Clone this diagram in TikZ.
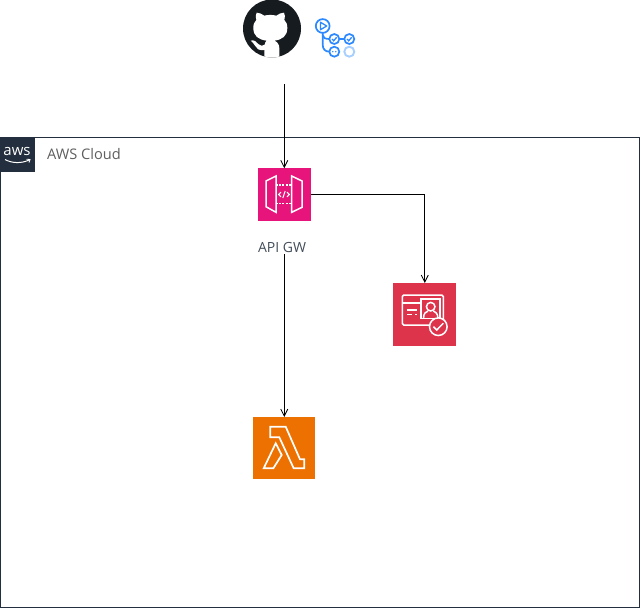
\documentclass[tikz,border=0pt]{standalone}
\usepackage{fontspec}
\setmainfont{Open Sans}
\usetikzlibrary{arrows.meta}
\definecolor{awsnavy}{HTML}{232F3E}
\definecolor{gwpink}{HTML}{E7157B}
\definecolor{authred}{HTML}{DD344C}
\definecolor{lamorange}{HTML}{ED7100}
\definecolor{ghdark}{HTML}{161B1F}
\definecolor{actblue}{HTML}{2B88FF}
\definecolor{actpale}{HTML}{A6CEFF}
\definecolor{txtgray}{HTML}{5F5F5F}
\tikzset{
  iconbox/.style={draw=none,inner sep=0pt,outer sep=0pt,minimum width=#1,minimum height=#1},
  link/.style={draw=black,line width=0.8pt,-{Straight Barb[length=7pt,width=7pt,line width=0.8pt]}},
  glyph/.style={draw=white,line width=1.5pt,line join=miter},
  act/.style={draw=actblue,line width=1.7pt},
  lbl/.style={inner sep=0pt,outer sep=0pt,font=\fontsize{14}{14}\selectfont,text=awsnavy!85}
}
\begin{document}
\begin{tikzpicture}[x=1pt,y=-1pt]
\useasboundingbox (0,0) rectangle (640,608);
% cloud group
\node[draw=awsnavy,line width=0.8pt,fill=white,inner sep=0pt,outer sep=0pt,minimum width=639pt,minimum height=469.75pt] (cloud) at (320,372.6) {};
\node[fill=awsnavy,inner sep=0pt,outer sep=0pt,minimum width=35pt,minimum height=34pt] (awslogo) at (17.5,155) {};
\node[inner sep=0pt,text=white,font=\fontsize{15}{15}\selectfont] (awstxt) at (17,151.3) {aws};
\draw[white,line width=1pt] (5,159.5) .. controls (12,163.5) and (22,163.5) .. (29,160);
\draw[white,line width=0.8pt] (26.5,159.2) -- (30,159.5) -- (29,162.5);
\node[anchor=west,inner sep=0pt,text=txtgray,font=\fontsize{14.6}{14}\selectfont] (cloudlbl) at (47,154) {AWS Cloud};
% github mark
\node[circle,fill=ghdark,inner sep=0pt,outer sep=0pt,minimum size=58pt] (gh) at (272,28.5) {};
\begin{scope}
\clip (272,28.5) circle[radius=29];
\begin{scope}[shift={(230,0)},x=0.3333pt,y=-0.3333pt]
\fill[white] (103,175) -- (103,150)
  .. controls (85,152) and (80,146) .. (75,137)
  .. controls (71,130) and (66,125) .. (62,122)
  .. controls (72,118) and (80,126) .. (86,133)
  .. controls (92,139) and (98,138) .. (104,134)
  .. controls (105,128) and (107,124) .. (110,122)
  .. controls (85,119) and (70,108) .. (70,84)
  .. controls (70,72) and (73,66) .. (79,60)
  .. controls (76,52) and (77,44) .. (80,38)
  .. controls (88,38) and (96,42) .. (103,47)
  .. controls (114,44) and (128,44) .. (139,47)
  .. controls (146,42) and (154,38) .. (162,38)
  .. controls (165,44) and (166,52) .. (163,60)
  .. controls (169,66) and (172,72) .. (172,84)
  .. controls (172,108) and (157,119) .. (133,122)
  .. controls (143,126) and (148,134) .. (148,145)
  -- (148,175) -- cycle;
\end{scope}
\end{scope}
% github actions icon
\draw[act] (322.7,26) circle[radius=6.9];
\draw[actblue,line width=1.3pt,line join=round] (320.5,22.3) -- (326.7,26) -- (320.5,29.7) -- cycle;
\draw[act] (322.7,32.7) -- (322.7,44.5) .. controls (322.7,49) and (325,51.7) .. (329.6,51.7);
\draw[act] (322.7,35) .. controls (323,38) and (325,39) .. (329.6,39);
\draw[act] (339,39) -- (344.6,39);
\draw[act] (334.3,39) circle[radius=5];
\draw[act] (349.3,39) circle[radius=5];
\draw[act] (334.3,51.7) circle[radius=5];
\draw[draw=actpale,line width=1.9pt] (349.3,51.7) circle[radius=5];
\draw[actblue,line width=1.3pt] (332,39) -- (333.7,40.8) -- (336.7,37.3);
\draw[actblue,line width=1.3pt] (347,39) -- (348.7,40.8) -- (351.7,37.3);
\fill[actblue] (332.8,51.7) circle[radius=0.8] (335.8,51.7) circle[radius=0.8];
% api gateway
\node[iconbox=52.5pt,fill=gwpink] (gw) at (284.25,194.5) {};
\draw[glyph] (266,181) -- (276,176) -- (276,212.3) -- (266,206.7) -- cycle;
\draw[glyph] (291.7,176) -- (302,181) -- (302,207.3) -- (291.7,212.3) -- cycle;
\draw[draw=white,line width=1.1pt,dash pattern=on 2pt off 1.2pt] (276,185) -- (291.7,185);
\draw[draw=white,line width=1.1pt,dash pattern=on 2pt off 1.2pt] (276,203.7) -- (291.7,203.7);
\draw[draw=white,line width=1pt] (281,192.2) -- (278.6,194.5) -- (281,196.8) (287,192.2) -- (289.4,194.5) -- (287,196.8) (285.2,191) -- (282.8,198);
\node[lbl,anchor=south,minimum height=14pt] (gwlbl) at (282,254) {API GW};
% auth icon
\node[iconbox=63pt,fill=authred] (auth) at (424.75,314.5) {};
\draw[glyph,rounded corners=1.5pt] (402.3,295) rectangle (443.3,325);
\draw[glyph] (402.3,303) -- (421,303);
\draw[glyph] (421,299) rectangle (440,318.3);
\draw[glyph] (430.7,306.7) circle[radius=4.3];
\draw[glyph] (423.5,318.3) .. controls (423.5,313.5) and (426,311.5) .. (428,311) (437.9,318.3) .. controls (437.9,313.5) and (435.4,311.5) .. (433.4,311);
\draw[glyph] (406.7,310) -- (417.3,310) (406.7,314.3) -- (412.3,314.3) (415,314.3) -- (417.3,314.3);
\draw[glyph,fill=authred] (438.3,326.7) circle[radius=8.8];
\draw[glyph] (433.5,326.7) -- (436.7,330) -- (443.3,323.3);
% lambda
\node[iconbox=62pt,fill=lamorange] (lam) at (284.25,448) {};
\draw[glyph,line width=1.7pt] (270.3,426.7) -- (285.7,426.7) -- (300,459.3) -- (304.3,459.3) -- (304.3,468.3) -- (293.7,468.3) -- (279.3,437.3) -- (270.3,437.3) -- cycle;
\draw[glyph,line width=1.7pt] (275.7,443.3) -- (281.7,455) -- (273.3,468.3) -- (263.7,468.3) -- cycle;
% connectors
\coordinate (ghout) at (284.25,84);
\draw[link] (ghout) -- (gw.north);
\draw[link] (gw.east) -| (auth.north);
\draw[link] (gwlbl.south -| gw.south) -- (lam.north -| gw.south);
\end{tikzpicture}
\end{document}
